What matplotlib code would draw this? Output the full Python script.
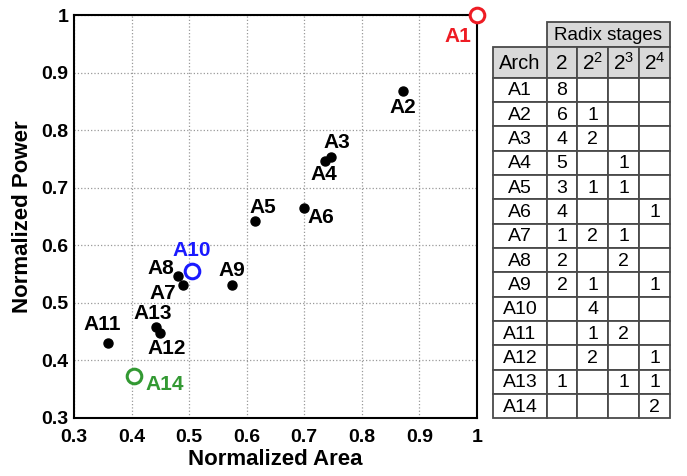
import numpy as np
import matplotlib as mpl
mpl.use('Agg')
from matplotlib import pyplot as plt
from matplotlib.patches import Rectangle

plt.rcParams['font.family'] = ['Liberation Sans', 'DejaVu Sans']

# design points (normalized area, normalized power)
names = ['A1', 'A2', 'A3', 'A4', 'A5', 'A6', 'A7', 'A8', 'A9',
         'A10', 'A11', 'A12', 'A13', 'A14']
area = [1.0, 0.871, 0.746, 0.736, 0.615, 0.699, 0.489, 0.480, 0.574,
        0.505, 0.359, 0.449, 0.442, 0.404]
power = [1.0, 0.868, 0.754, 0.747, 0.642, 0.665, 0.530, 0.546, 0.531,
         0.556, 0.430, 0.447, 0.458, 0.373]

# label offsets in pixels (dx, dy up)
lab_off = [(-19, -21), (0, -16), (6, 14), (-1, -14), (8, 14), (17, -10),
           (-20, -8), (-17, 8), (0, 14), (0, 20), (-6, 18), (7, -15),
           (-3, 13), (31, -9)]
highlight = {'A1': '#ee1c24', 'A10': '#1a1aff', 'A14': '#339933'}

# table of radix stages
radix_cols = ['2', r'$\mathregular{2^2}$', r'$\mathregular{2^3}$',
              r'$\mathregular{2^4}$']
radix2 = ['8', '6', '4', '5', '3', '4', '1', '2', '2', '', '', '', '1', '']
radix4 = ['', '1', '2', '', '1', '', '2', '', '1', '4', '1', '2', '', '']
radix8 = ['', '', '', '1', '1', '', '1', '2', '', '', '2', '', '1', '']
radix16 = ['', '', '', '', '', '1', '', '', '1', '', '', '1', '1', '2']

W, H = 687, 476
fig = plt.figure(figsize=(W / 100, H / 100), dpi=100)
ax = fig.add_axes([74 / W, 1 - 417.7 / H, (477 - 74) / W, (417.7 - 15.3) / H])

for i, n in enumerate(names):
    if n in highlight:
        ax.plot(area[i], power[i], 'o', ms=10.5, mfc='white',
                mec=highlight[n], mew=2.2, zorder=4, clip_on=False)
        col = highlight[n]
    else:
        ax.plot(area[i], power[i], 'o', ms=6.5, color='black', zorder=3)
        col = 'black'
    ax.annotate(n, (area[i], power[i]), xytext=lab_off[i],
                textcoords='offset pixels', ha='center', va='center',
                fontsize=15, fontweight='bold', color=col, zorder=5)

ax.set_xlim(0.3, 1.0)
ax.set_ylim(0.3, 1.0)
ticks = np.arange(0.3, 1.01, 0.1)
ax.set_xticks(ticks)
ax.set_yticks(ticks)
ax.set_xticklabels(['%g' % round(t, 1) for t in ticks])
ax.set_yticklabels(['%g' % round(t, 1) for t in ticks])
ax.tick_params(length=0, labelsize=14, pad=8)
ax.tick_params(axis='y', pad=4)
for lab in ax.get_xticklabels() + ax.get_yticklabels():
    lab.set_fontweight('bold')
ax.grid(True, linestyle=':', color='#999999', linewidth=0.9)
for s in ax.spines.values():
    s.set_linewidth(1.5)
ax.set_xlabel('Normalized Area', fontsize=16, fontweight='bold', labelpad=2)
ax.set_ylabel('Normalized Power', fontsize=16, fontweight='bold', labelpad=6)

# table drawn in pixel coordinates
tab = fig.add_axes([0, 0, 1, 1])
tab.set_xlim(0, W)
tab.set_ylim(H, 0)
tab.axis('off')
tab.patch.set_alpha(0)

col_x = [493.3, 546.7, 577.3, 608.3, 639.3, 670.3]
top, head_y, body_y = 22.3, 46.7, 77.7
row_h = (418.3 - body_y) / len(names)
edge = '#4a4a4a'
grey = '#d9d9d9'


def cell(x0, x1, y0, y1, text, fc='white', size=14):
    tab.add_patch(Rectangle((x0, y0), x1 - x0, y1 - y0, fc=fc, ec=edge, lw=1.3))
    tab.text((x0 + x1) / 2, (y0 + y1) / 2 + 1, text, ha='center', va='center',
             fontsize=size, color='black')


cell(col_x[1], col_x[5], top, head_y, 'Radix stages', fc=grey, size=13.5)
cell(col_x[0], col_x[1], head_y, body_y, 'Arch', fc=grey, size=14.5)
for j, c in enumerate(radix_cols):
    cell(col_x[j + 1], col_x[j + 2], head_y, body_y, c, fc=grey, size=15)

cols = [names, radix2, radix4, radix8, radix16]
for i in range(len(names)):
    y0 = body_y + i * row_h
    for j in range(5):
        cell(col_x[j], col_x[j + 1], y0, y0 + row_h, cols[j][i])

fig.savefig('out.png', dpi=100)
